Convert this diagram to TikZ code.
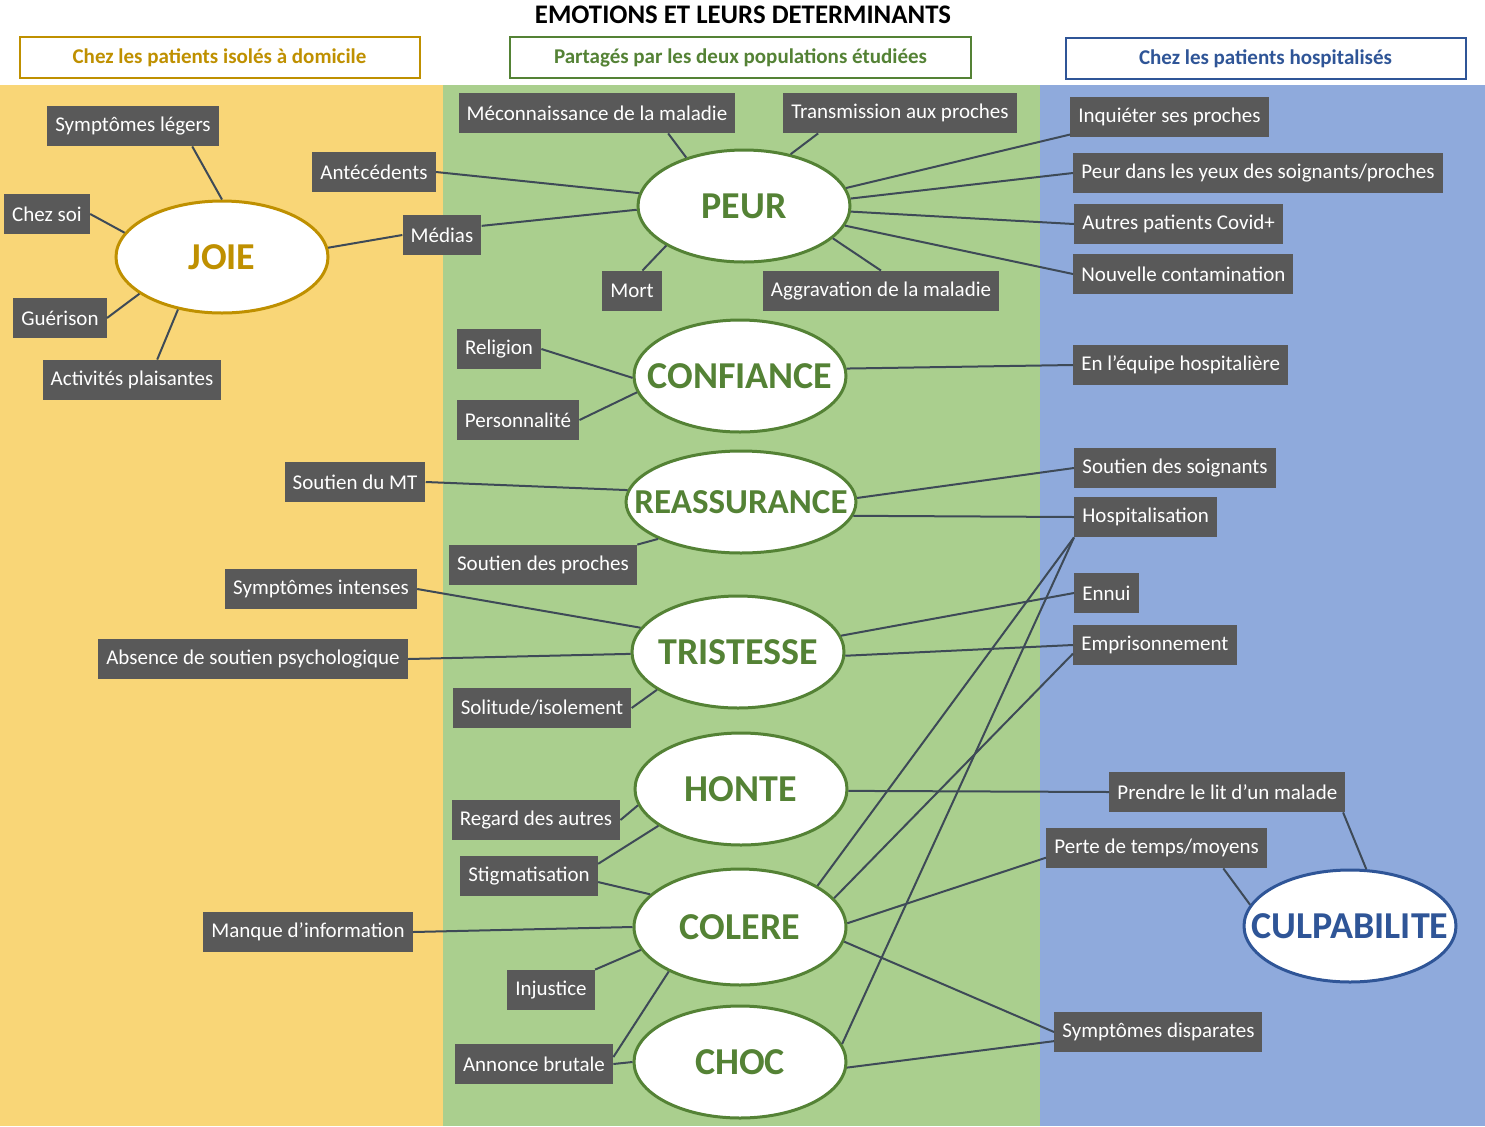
\documentclass[tikz,border=0pt]{standalone}
\usepackage{fontspec}
\setmainfont{Carlito}
\usetikzlibrary{shapes.geometric}

\definecolor{jaune}{HTML}{F9D677}
\definecolor{vert}{HTML}{AACF8E}
\definecolor{bleu}{HTML}{8FAADC}
\definecolor{or}{HTML}{BF9000}
\definecolor{vertfonce}{HTML}{548235}
\definecolor{bleufonce}{HTML}{2F5597}
\definecolor{gris}{HTML}{595959}
\definecolor{trait}{HTML}{3E4A57}

\newcommand{\etiq}[1]{\makebox[0pt]{#1}}

\tikzset{
 det/.style={fill=gris, text=white, inner xsep=4pt, inner ysep=0pt, minimum height=20pt, font=\fontsize{10.5}{12}\selectfont},
 detg/.style={det, anchor=west},
 emo/.style={ellipse, draw=#1, fill=white, line width=1.5pt, text=#1, minimum width=106pt, minimum height=56pt, inner sep=0pt, font=\fontsize{19}{21}\selectfont\bfseries},
 entete/.style={draw=#1, line width=1pt, text=#1, fill=white, minimum width=200pt, minimum height=20.5pt, font=\fontsize{10.5}{12}\selectfont\bfseries},
 lien/.style={draw=trait, line width=1pt}
}

\begin{document}
\begin{tikzpicture}[x=0.5pt, y=-0.5pt]
\useasboundingbox (0,0) rectangle (1485,1126);
\fill[white] (0,0) rectangle (1485,1126);
\fill[jaune] (0,85) rectangle (443,1126);
\fill[vert] (443,85) rectangle (1040,1126);
\fill[bleu] (1040,85) rectangle (1485,1126);

\node[font=\fontsize{13.4}{15}\selectfont\bfseries] (titre) at (743,15) {EMOTIONS ET LEURS DETERMINANTS};
\node[entete=or] (hdom) at (219.5,57.5) {Chez les patients isolés à domicile};
\node[entete=vertfonce, minimum width=230.5pt] (hpart) at (740.5,57.5) {Partagés par les deux populations étudiées};
\node[entete=bleufonce] (hhosp) at (1265.5,58.5) {Chez les patients hospitalisés};

\node[emo=or] (joie) at (222,257) {\etiq{JOIE}};
\node[emo=vertfonce] (peur) at (744,206) {\etiq{PEUR}};
\node[emo=vertfonce] (conf) at (740,376) {\etiq{CONFIANCE}};
\node[emo=vertfonce, minimum width=115pt, minimum height=51pt, font=\fontsize{17.5}{20}\selectfont\bfseries] (reas) at (741,502) {\etiq{REASSURANCE}};
\node[emo=vertfonce] (trist) at (738,652) {\etiq{TRISTESSE}};
\node[emo=vertfonce] (honte) at (741,789) {\etiq{HONTE}};
\node[emo=vertfonce, minimum height=58pt] (colere) at (740,927) {\etiq{COLERE}};
\node[emo=vertfonce] (choc) at (740,1062) {\etiq{CHOC}};
\node[emo=bleufonce] (culp) at (1350,926) {\etiq{CULPABILITE}};

\node[det] (sl) at (133,126) {Symptômes légers};
\node[det] (cs) at (47,214) {Chez soi};
\node[det] (gue) at (60,318) {Guérison};
\node[det] (act) at (132,380) {Activités plaisantes};
\node[det] (ant) at (374,172) {Antécédents};
\node[det] (med) at (442,235) {Médias};
\node[det] (smt) at (355,482) {Soutien du MT};
\node[det] (sint) at (321,589) {Symptômes intenses};
\node[det] (abs) at (253,659) {Absence de soutien psychologique};
\node[det] (manq) at (308,932) {Manque d’information};

\node[det] (mec) at (597,113) {Méconnaissance de la maladie};
\node[det] (trans) at (900,113) {Transmission aux proches};
\node[det] (mort) at (632,291) {Mort};
\node[det] (aggr) at (881,291) {Aggravation de la maladie};
\node[det] (rel) at (499,349) {Religion};
\node[det] (pers) at (518,420) {Personnalité};
\node[det] (sprox) at (543,565) {Soutien des proches};
\node[det] (sol) at (542,708) {Solitude/isolement};
\node[det] (reg) at (536,820) {Regard des autres};
\node[det] (stig) at (529,876) {Stigmatisation};
\node[det] (inj) at (551,990) {Injustice};
\node[det] (ann) at (534,1064) {Annonce brutale};

\node[detg] (inq) at (1070,117) {Inquiéter ses proches};
\node[detg] (yeux) at (1073,173) {Peur dans les yeux des soignants/proches};
\node[detg] (autres) at (1074,224) {Autres patients Covid+};
\node[detg] (nouv) at (1073,274) {Nouvelle contamination};
\node[detg] (equipe) at (1073,365) {En l’équipe hospitalière};
\node[detg] (ssoig) at (1074,468) {Soutien des soignants};
\node[detg] (hosp) at (1074,517) {Hospitalisation};
\node[detg] (ennui) at (1074,593) {Ennui};
\node[detg] (empr) at (1073,645) {Emprisonnement};
\node[detg] (lit) at (1109,792) {Prendre le lit d’un malade};
\node[detg] (perte) at (1046,848) {Perte de temps/moyens};
\node[detg] (sdisp) at (1054,1032) {Symptômes disparates};

\foreach \a/\b in {sl.-19/joie.90, cs.east/joie.166, gue.east/joie.204, act.39/joie.230, med.west/joie.5,
 mec.-16/peur.140, trans.194/peur.48, ant.east/peur.173, med.13/peur.182, mort.63/peur.207, aggr.north/peur.340,
 inq.190/peur.10, yeux.west/peur.4, autres.west/peur.357, nouv.west/peur.349,
 rel.east/conf.181, pers.east/conf.189, equipe.west/conf.4,
 smt.east/reas.174, sprox.north east/reas.204, ssoig.west/reas.2, hosp.west/reas.353,
 sint.east/trist.166, abs.east/trist.181, sol.east/trist.205, ennui.west/trist.9, empr.west/trist.358,
 reg.east/honte.189, stig.10/honte.204, lit.west/honte.359,
 stig.-5/colere.160, manq.east/colere.180, inj.north east/colere.193, ann.5/colere.212,
 hosp.south west/colere.28, empr.186/colere.17, perte.185/colere.2, sdisp.west/colere.352,
 ann.east/choc.180, hosp.south west/choc.10, sdisp.185/choc.357,
 lit.-10/culp.74, perte.-17/culp.168} {
 \draw[lien] (\a) -- (\b);
}
\end{tikzpicture}
\end{document}
